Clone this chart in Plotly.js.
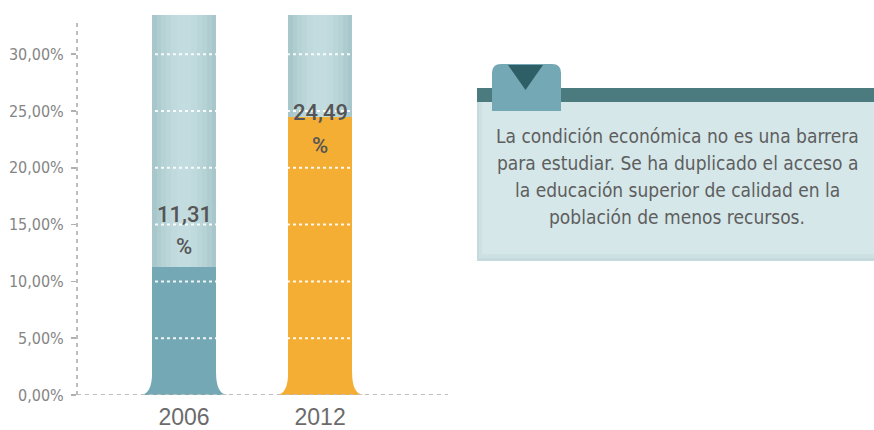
<!DOCTYPE html>
<html>
<head>
<meta charset="utf-8">
<script src="https://cdn.plot.ly/plotly-3.0.1.min.js"></script>
<style>html,body{margin:0;padding:0;background:#fff;}#chart{width:874px;height:430px;}</style>
</head>
<body>
<div id="chart"></div>
<script>
// ---- data ----
const years = ['2006', '2012'];
const values = [11.31, 24.49];
const valueLabels = ['11,31', '24,49'];
const barColors = ['#74a8b5', '#f3ae33'];
const yTicks = [0, 5, 10, 15, 20, 25, 30];
const yTickLabels = ['0,00%', '5,00%', '10,00%', '15,00%', '20,00%', '25,00%', '30,00%'];
const calloutLines = [
  'La condición económica no es una barrera',
  'para estudiar. Se ha duplicado el acceso a',
  'la educación superior de calidad en la',
  'población de menos recursos.'
];

// ---- layout helpers ----
const W = 874, H = 430;
const M = {l: 77, r: 426, t: 15, b: 35};
const plotW = W - M.l - M.r, plotH = H - M.t - M.b;
const yMax = 33.45;
const xRange = [-0.787, 1.94];
const barW = 0.47;
const numShift = [4.54, 0.42];
const pctShift = [1.8, -2.49];
const narrow = '"Liberation Sans Narrow", "DejaVu Sans Condensed", "Arial Narrow", sans-serif';
const px = x => (x - M.l) / plotW;
const py = y => (H - M.b - y) / plotH;

const xs = years.map((_, i) => i);

// backdrop column with a soft horizontal gradient (stacked overlay layers)
const backdropSteps = [
  [1.00, '#a8c7cb'], [0.86, '#afcdd0'], [0.72, '#b5d2d5'],
  [0.56, '#bad6d9'], [0.40, '#bfd9dc'], [0.22, '#c3dcdf']
];
const traces = backdropSteps.map(([k, col]) => ({
  type: 'bar', x: xs, y: xs.map(() => yMax), width: barW * k, marker: {color: col, line: {width: 0}},
  hoverinfo: 'skip', showlegend: false
}));
traces.push({type: 'bar', x: xs, y: values, width: barW, marker: {color: barColors, line: {width: 0}},
  hoverinfo: 'skip', showlegend: false});

const shapes = [];
// flared bases
xs.forEach((c, i) => {
  const hw = barW / 2, f = 0.09, h = 2.0;
  shapes.push({type: 'path', xref: 'x', yref: 'y', layer: 'below',
    path: `M ${c - hw - f},0 Q ${c - hw},0 ${c - hw},${h} L ${c + hw},${h} Q ${c + hw},0 ${c + hw + f},0 Z`,
    fillcolor: barColors[i], line: {width: 0}});
});
// white dotted grid over the bars
yTicks.filter(v => v > 0).forEach(v => {
  shapes.push({type: 'line', xref: 'paper', yref: 'y', x0: 0, x1: 1, y0: v, y1: v, layer: 'above',
    line: {color: 'rgba(255,255,255,0.9)', width: 2, dash: 'dot'}});
});
// dashed axes
shapes.push({type: 'line', xref: 'paper', yref: 'y', x0: 0, x1: 0, y0: 0, y1: 33.1, layer: 'above',
  line: {color: '#a8a8a8', width: 1.5, dash: '4px,4px'}});
shapes.push({type: 'line', xref: 'paper', yref: 'y', x0: 0, x1: 1, y0: 0, y1: 0, layer: 'above',
  line: {color: '#bdbdbd', width: 2, dash: '4px,4px'}});

// callout panel
function rect(x0, y0, x1, y1, color) {
  return {type: 'rect', xref: 'paper', yref: 'paper', x0: px(x0), x1: px(x1), y0: py(y1), y1: py(y0),
    fillcolor: color, line: {width: 0}, layer: 'above'};
}
shapes.push(rect(477, 102, 880, 261, '#c4dadd'));
shapes.push(rect(479, 102, 880, 258, '#cde1e3'));
shapes.push(rect(482, 102, 880, 254, '#d5e7e9'));
shapes.push(rect(477, 88, 880, 102, '#4b7b7f'));
// tab with rounded top corners
(function () {
  const x0 = 492, x1 = 561, y0 = 64, y1 = 111, r = 9;
  const P = (x, y) => `${px(x)},${py(y)}`;
  const path = `M ${P(x0, y1)} L ${P(x0, y0 + r)} Q ${P(x0, y0)} ${P(x0 + r, y0)} L ${P(x1 - r, y0)} Q ${P(x1, y0)} ${P(x1, y0 + r)} L ${P(x1, y1)} Z`;
  shapes.push({type: 'path', xref: 'paper', yref: 'paper', path: path, fillcolor: '#74a8b5', line: {width: 0}, layer: 'above'});
  const tri = `M ${P(508, 65)} L ${P(543, 65)} L ${P(525.5, 90)} Z`;
  shapes.push({type: 'path', xref: 'paper', yref: 'paper', path: tri, fillcolor: '#2f5f66', line: {width: 0}, layer: 'above'});
})();

const labelFont = {family: 'Roboto, "Liberation Sans", Arial, sans-serif', size: 22, color: '#555555', weight: 500};
const annotations = [];
xs.forEach((c, i) => {
  annotations.push({x: c, y: values[i] + numShift[i], xref: 'x', yref: 'y', text: valueLabels[i],
    showarrow: false, font: labelFont});
  annotations.push({x: c, y: values[i] + pctShift[i], xref: 'x', yref: 'y', text: '%',
    showarrow: false, font: labelFont});
});
calloutLines.forEach((line, k) => {
  annotations.push({
    xref: 'paper', yref: 'paper', x: px(677), y: py(136 + 27 * k), xanchor: 'center', yanchor: 'middle',
    text: line, showarrow: false,
    font: {family: narrow, size: 19, color: '#5e5e5e'}
  });
});

const layout = {
  width: W, height: H,
  margin: M,
  paper_bgcolor: '#ffffff', plot_bgcolor: '#ffffff',
  barmode: 'overlay',
  bargap: 0,
  showlegend: false,
  xaxis: {range: xRange, tickvals: xs, ticktext: years, showgrid: false, zeroline: false, showline: false,
    ticks: '', ticklabelstandoff: 6,
    tickfont: {family: '"Liberation Sans", Arial, sans-serif', size: 23, color: '#6b6b6b'}, fixedrange: true},
  yaxis: {range: [0, yMax], tickmode: 'array', tickvals: yTicks, ticktext: yTickLabels, showgrid: false, zeroline: false,
    showline: false, ticks: 'outside', ticklen: 5, tickcolor: '#b0b0b0', tickwidth: 1.5, ticklabelstandoff: 4,
    tickfont: {family: narrow, size: 16, color: '#858585'}, fixedrange: true},
  shapes: shapes,
  annotations: annotations
};

Plotly.newPlot('chart', traces, layout, {displayModeBar: false, staticPlot: true});
</script>
</body>
</html>
